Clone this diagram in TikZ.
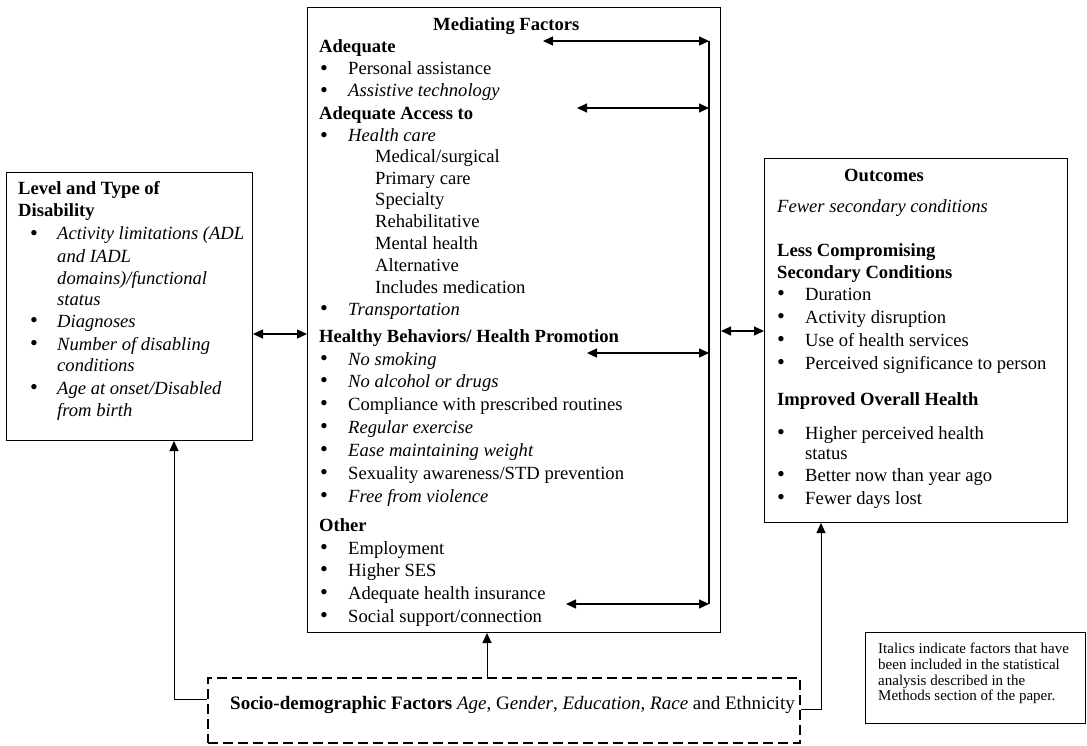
\documentclass[tikz,border=0pt]{standalone}
\usepackage{fontspec}
\setmainfont{Liberation Serif}
\usetikzlibrary{arrows.meta}
\newcommand\fsm{\fontsize{18.6}{22}\selectfont}
\newcommand\fss{\fontsize{19}{22}\selectfont}
\newcommand\fsn{\fontsize{15}{15.7}\selectfont}
\newcommand\bul[1]{\makebox[#1][l]{\raisebox{-0.5pt}{\scalebox{1.2}{\textbullet}}}}
\begin{document}
\begin{tikzpicture}[x=1pt,y=-1pt,
  box/.style={draw, line width=1pt, anchor=north west, inner sep=0pt},
  dbox/.style={box, line width=1.7pt, dash pattern=on 10pt off 5pt},
  tx/.style={anchor=base west, inner sep=0pt, font=\fsm},
  hd/.style={tx, font=\fsm\bfseries},
  nt/.style={anchor=base west, inner sep=0pt, font=\fsn},
  tip/.tip={Triangle[length=10pt,width=9pt]},
  arr/.style={line width=1pt, -tip},
  dbl/.style={line width=1.3pt, tip-tip},
  bar/.style={line width=1.5pt}
]
\useasboundingbox (0,0) rectangle (1087,746);

% boxes
\node[box, minimum width=246pt, minimum height=268pt] (lev) at (6,172) {};
\node[box, minimum width=413pt, minimum height=625pt] (med) at (307,7) {};
\node[box, minimum width=303pt, minimum height=364pt] (out) at (764,158) {};
\node[dbox, minimum width=592pt, minimum height=65pt] (soc) at (207,677) {};
\node[box, minimum width=220pt, minimum height=91pt] (note) at (865,632) {};

% left box text
\node[hd] (l1) at (18,195) {Level and Type of};
\node[hd] (l2) at (18,217) {Disability};
\node[tx] (l3) at (30,240) {\bul{27pt}\textit{Activity limitations (ADL}};
\node[tx] (l4) at (57,262) {\textit{and IADL}};
\node[tx] (l5) at (57,284) {\textit{domains)/functional}};
\node[tx] (l6) at (57,305) {\textit{status}};
\node[tx] (l7) at (30,327) {\bul{27pt}\textit{Diagnoses}};
\node[tx] (l8) at (30,350) {\bul{27pt}\textit{Number of disabling}};
\node[tx] (l9) at (57,371) {\textit{conditions}};
\node[tx] (l10) at (30,394) {\bul{27pt}\textit{Age at onset/Disabled}};
\node[tx] (l11) at (57,416) {\textit{from birth}};

% middle box text
\node[hd] (m0) at (433,31) {Mediating Factors};
\node[hd] (m1) at (319,53) {Adequate};
\node[tx] (m2) at (320,75) {\bul{28pt}Personal assistance};
\node[tx] (m3) at (320,97) {\bul{28pt}\textit{Assistive technology}};
\node[hd] (m4) at (319,120) {Adequate Access to};
\node[tx] (m5) at (320,142) {\bul{28pt}\textit{Health care}};
\node[tx] (m6) at (375,163) {Medical/surgical};
\node[tx] (m7) at (375,185) {Primary care};
\node[tx] (m8) at (375,206) {Specialty};
\node[tx] (m9) at (375,228) {Rehabilitative};
\node[tx] (m10) at (375,249) {Mental health};
\node[tx] (m11) at (375,271) {Alternative};
\node[tx] (m12) at (375,293) {Includes medication};
\node[tx] (m13) at (320,315) {\bul{28pt}\textit{Transportation}};
\node[hd] (m14) at (319,342) {Healthy Behaviors/ Health Promotion};
\node[tx] (m15) at (320,365) {\bul{28pt}\textit{No smoking}};
\node[tx] (m16) at (320,387) {\bul{28pt}\textit{No alcohol or drugs}};
\node[tx] (m17) at (320,410) {\bul{28pt}Compliance with prescribed routines};
\node[tx] (m18) at (320,433) {\bul{28pt}\textit{Regular exercise}};
\node[tx] (m19) at (320,456) {\bul{28pt}\textit{Ease maintaining weight}};
\node[tx] (m20) at (320,479) {\bul{28pt}Sexuality awareness/STD prevention};
\node[tx] (m21) at (320,502) {\bul{28pt}\textit{Free from violence}};
\node[hd] (m22) at (319,531) {Other};
\node[tx] (m23) at (320,554) {\bul{28pt}Employment};
\node[tx] (m24) at (320,576) {\bul{28pt}Higher SES};
\node[tx] (m25) at (320,599) {\bul{28pt}Adequate health insurance};
\node[tx] (m26) at (320,622) {\bul{28pt}Social support/connection};

% right box text
\node[hd] (o0) at (844,182) {Outcomes};
\node[tx] (o1) at (777,213) {\textit{Fewer secondary conditions}};
\node[hd] (o2) at (777,257) {Less Compromising};
\node[hd] (o3) at (777,278) {Secondary Conditions};
\node[tx] (o4) at (777,300) {\bul{28pt}Duration};
\node[tx] (o5) at (777,323) {\bul{28pt}Activity disruption};
\node[tx] (o6) at (777,346) {\bul{28pt}Use of health services};
\node[tx] (o7) at (777,369) {\bul{28pt}Perceived significance to person};
\node[hd] (o8) at (777,405) {Improved Overall Health};
\node[tx] (o9) at (777,439) {\bul{28pt}Higher perceived health};
\node[tx] (o10) at (805,459) {status};
\node[tx] (o11) at (777,481) {\bul{28pt}Better now than year ago};
\node[tx] (o12) at (777,504) {\bul{28pt}Fewer days lost};

% socio-demographic text
\node[tx, font=\fss] (s1) at (230,709) {\textbf{Socio-demographic Factors} \textit{Age}, G\textit{ender}, \textit{Education}, \textit{Race} and Ethnicity};

% note text
\node[nt] (n1) at (878,653) {Italics indicate factors that have};
\node[nt] (n2) at (878,669) {been included in the statistical};
\node[nt] (n3) at (878,685) {analysis described in the};
\node[nt] (n4) at (878,700) {Methods section of the paper.};

% helper coordinates
\coordinate (yL) at (0,334);
\coordinate (yR) at (0,331);
\coordinate (bt) at (709,41);
\coordinate (bb) at (709,604);
\coordinate (a1) at (543,41);
\coordinate (a2) at (577,108);
\coordinate (b2) at (709,108);
\coordinate (a3) at (587,353);
\coordinate (b3) at (709,353);
\coordinate (a4) at (566,604);
\coordinate (xU) at (487,0);
\coordinate (xL) at (174,0);
\coordinate (xR) at (821,0);
\coordinate (yS) at (0,699);
\coordinate (yT) at (0,709);

% connectors
\draw[dbl] (lev.east |- yL) -- (med.west |- yL);
\draw[dbl] (med.east |- yR) -- (out.west |- yR);
\draw[bar] (bt) -- (bb);
\draw[dbl] (a1) -- (bt);
\draw[dbl] (a2) -- (b2);
\draw[dbl] (a3) -- (b3);
\draw[dbl] (a4) -- (bb);
\draw[arr] (soc.north -| xU) -- (med.south -| xU);
\draw[arr] (soc.west |- yS) -| (lev.south -| xL);
\draw[arr] (soc.east |- yT) -| (out.south -| xR);
\end{tikzpicture}
\end{document}
